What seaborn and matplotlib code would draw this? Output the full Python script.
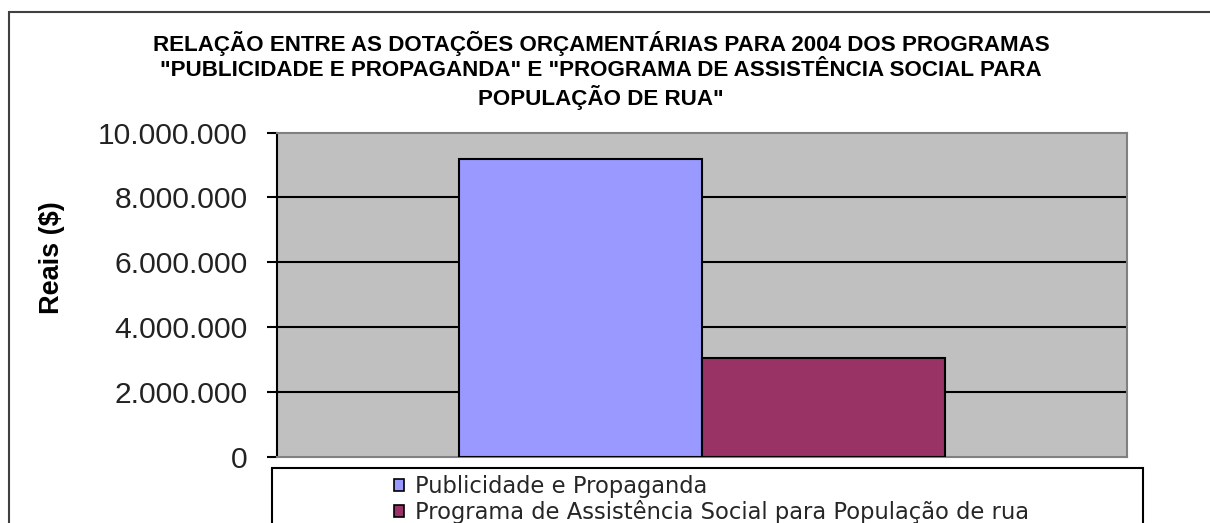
import matplotlib
matplotlib.use("Agg")
import matplotlib.pyplot as plt
import seaborn as sns
from matplotlib.patches import Rectangle, Patch
from matplotlib.ticker import FuncFormatter

# ---- data ----
programs = ["Publicidade e Propaganda",
            "Programa de Assistência Social para População de rua"]
budget_2004 = [9180000, 3050000]
year_group = ["2004", "2004"]
bar_colors = ["#9999FF", "#993366"]
yticks = [0, 2000000, 4000000, 6000000, 8000000, 10000000]
title_lines = ["RELAÇÃO ENTRE AS DOTAÇÕES ORÇAMENTÁRIAS PARA 2004 DOS PROGRAMAS",
               "\"PUBLICIDADE E PROPAGANDA\" E \"PROGRAMA DE ASSISTÊNCIA SOCIAL PARA",
               "POPULAÇÃO DE RUA\""]
ylabel = "Reais ($)"

sns.set_style("white")
plt.rcParams['font.family'] = ['Liberation Sans', 'DejaVu Sans']

W, H = 1210, 523
fig = plt.figure(figsize=(W / 100, H / 100), dpi=100)
fig.patch.set_facecolor("white")

ax = fig.add_axes([277 / W, 1 - 457.3 / H, 850 / W, 324.8 / H])
ax.set_facecolor("#C0C0C0")

sns.barplot(x=year_group, y=budget_2004, hue=programs, palette=bar_colors,
            width=0.5706, saturation=1, edgecolor="black", linewidth=1.5,
            ax=ax, zorder=3, legend=False)

ax.set_xlim(-0.5, 0.5)
ax.set_ylim(0, 10000000)
ax.set_yticks(yticks)
ax.yaxis.set_major_formatter(FuncFormatter(lambda v, p: f"{int(v):,}".replace(",", ".")))
ax.set_xticks([])
ax.set_xlabel("")
ax.grid(False)
ax.yaxis.grid(True, color="black", linewidth=1.5)
ax.set_axisbelow(True)
gl = ax.get_ygridlines()
gl[0].set_visible(False)
gl[-1].set_visible(False)

for s in ["top", "right", "bottom"]:
    ax.spines[s].set_color("#808080")
    ax.spines[s].set_linewidth(1.5)
ax.spines["left"].set_color("black")
ax.spines["left"].set_linewidth(1.5)

ax.tick_params(axis="y", which="both", left=True, direction="out", length=7,
               width=1.5, color="black", pad=14, labelsize=21.6, labelcolor="#222222")
ax.set_ylabel("")
fig.text(52 / W, 1 - 258 / H, ylabel, rotation=90, ha="center", va="center",
         fontsize=19.5, fontweight="bold", color="black")

# title
title_y = [43, 70, 97]
for line, yy in zip(title_lines, title_y):
    fig.text(601 / W, 1 - yy / H, line, ha="center", va="center",
             fontsize=16.1, fontweight="bold",
             family=["Liberation Sans Narrow", "Liberation Sans"], color="black")

# outer chart frame
fig.add_artist(Rectangle((9 / W, -0.5), 2, 0.5 + 1 - 12 / H, transform=fig.transFigure,
                         fill=False, edgecolor="#404040", linewidth=1.5, zorder=1))

# legend box
fig.add_artist(Rectangle((272 / W, -0.5), (1143 - 272) / W, 0.5 + 1 - 468 / H,
                         transform=fig.transFigure, facecolor="white",
                         edgecolor="black", linewidth=1.5, zorder=4))
handles = [Patch(facecolor=c, edgecolor="black", linewidth=1.2) for c in bar_colors]
leg = fig.legend(handles, programs, loc="upper left",
                 bbox_to_anchor=(394 / W, 1 - 475 / H), frameon=False,
                 handlelength=0.42, handleheight=0.42,
                 handletextpad=0.5, labelspacing=0.08, borderpad=0, borderaxespad=0,
                 prop={"family": ["DejaVu Sans"], "size": 16.3})
leg.set_zorder(5)

fig.savefig("out.png", dpi=100)
